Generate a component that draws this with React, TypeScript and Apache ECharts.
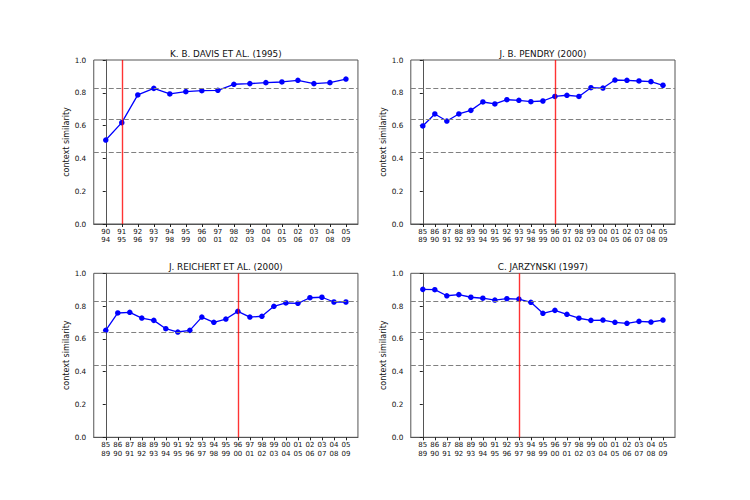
import React, { useEffect, useRef } from "react";
import * as echarts from "echarts";

// Tick labels (start year / end year of each 5-year window)
const catsLong = [
  "85\n89", "86\n90", "87\n91", "88\n92", "89\n93", "90\n94", "91\n95",
  "92\n96", "93\n97", "94\n98", "95\n99", "96\n00", "97\n01", "98\n02",
  "99\n03", "00\n04", "01\n05", "02\n06", "03\n07", "04\n08", "05\n09",
];
const catsDavis = [
  "90\n94", "91\n95", "92\n96", "93\n97", "94\n98", "95\n99", "96\n00", "97\n01",
  "98\n02", "99\n03", "00\n04", "01\n05", "02\n06", "03\n07", "04\n08", "05\n09",
];

// Series values
const davis = [0.512, 0.618, 0.787, 0.827, 0.793, 0.807, 0.813, 0.815, 0.852, 0.856, 0.862, 0.866, 0.876, 0.856, 0.862, 0.884];
const pendry = [0.598, 0.671, 0.628, 0.671, 0.693, 0.744, 0.732, 0.758, 0.754, 0.746, 0.75, 0.778, 0.785, 0.778, 0.831, 0.829, 0.878, 0.876, 0.872, 0.868, 0.846];
const reichert = [0.652, 0.758, 0.762, 0.727, 0.713, 0.662, 0.642, 0.652, 0.733, 0.701, 0.721, 0.768, 0.733, 0.738, 0.799, 0.819, 0.817, 0.851, 0.854, 0.825, 0.825];
const jarzynski = [0.902, 0.9, 0.863, 0.87, 0.854, 0.848, 0.837, 0.845, 0.843, 0.823, 0.756, 0.774, 0.75, 0.726, 0.713, 0.715, 0.701, 0.695, 0.707, 0.703, 0.715];

// Reference levels (dashed) and titles
const thresholds = [0.834, 0.638, 0.441];
const titles = ["K. B. DAVIS ET AL. (1995)", "J. B. PENDRY (2000)", "J. REICHERT ET AL. (2000)", "C. JARZYNSKI (1997)"];
const publicationWindows = ["91\n95", "96\n00", "96\n00", "93\n97"];
const yLabel = "context similarity";

const panels = [
  { cats: catsDavis, values: davis },
  { cats: catsLong, values: pendry },
  { cats: catsLong, values: reichert },
  { cats: catsLong, values: jarzynski },
];

const W = 264.2;
const H = 164;
const boxes = [
  { left: 93.75, top: 60 },
  { left: 410.8, top: 60 },
  { left: 93.75, top: 273.3 },
  { left: 410.8, top: 273.3 },
];

const FONT = "DejaVu Sans";
const SPINE = "#555";

export default function App() {
  const ref = useRef<HTMLDivElement>(null);
  useEffect(() => {
    if (!ref.current) return;
    const chart = echarts.init(ref.current, undefined, { renderer: "svg" });
    const grid: any[] = [];
    const xAxis: any[] = [];
    const yAxis: any[] = [];
    const series: any[] = [];
    const graphic: any[] = [];
    panels.forEach((p, k) => {
      const n = p.cats.length;
      const b = boxes[k];
      const idx = p.cats.map((_, i) => i);
      grid.push({
        left: b.left, top: b.top, width: W, height: H,
        show: true, borderColor: SPINE, borderWidth: 1, backgroundColor: "#fff",
      });
      xAxis.push({
        type: "value", gridIndex: k,
        min: -0.05 * (n - 1), max: (n - 1) * 1.05,
        splitLine: { show: false },
        axisLine: { show: true, onZero: false, lineStyle: { color: SPINE, width: 1 } },
        axisTick: { show: true, customValues: idx, length: 3, lineStyle: { color: "#222" } },
        axisLabel: {
          customValues: idx,
          formatter: (v: number) => p.cats[Math.round(v)] ?? "",
          fontFamily: FONT, fontSize: 7, lineHeight: 8.2, color: "#111", margin: 4,
        },
      });
      yAxis.push({
        type: "value", gridIndex: k, min: 0, max: 1, interval: 0.2,
        name: yLabel, nameLocation: "middle", nameRotate: 90, nameGap: 18,
        nameTextStyle: { fontFamily: FONT, fontSize: 8, color: "#111" },
        splitLine: { show: false },
        axisLine: { show: true, lineStyle: { color: SPINE, width: 1 } },
        axisTick: { show: true, length: 3, lineStyle: { color: "#222" } },
        axisLabel: {
          formatter: (v: number) => v.toFixed(1),
          fontFamily: FONT, fontSize: 7.3, color: "#111", margin: 7.5,
        },
      });
      series.push({
        type: "line", xAxisIndex: k, yAxisIndex: k,
        data: p.values.map((v, i) => [i, v]),
        symbol: "circle", symbolSize: 5.5,
        lineStyle: { color: "#0000ff", width: 1.3 },
        itemStyle: { color: "#0000ff" },
        z: 3,
        markLine: {
          silent: true, symbol: ["none", "none"], label: { show: false },
          animation: false,
          data: [
            ...thresholds.map((t) => ({ yAxis: t, lineStyle: { color: "#808080", type: [5, 2.5], width: 1.2 } })),
            { xAxis: p.cats.indexOf(publicationWindows[k]), lineStyle: { color: "rgba(255,0,0,0.8)", type: "solid", width: 1.4 } },
          ],
        },
      });
      graphic.push({
        type: "text", x: b.left + W / 2, y: b.top - 6.3,
        style: {
          text: titles[k], textAlign: "center", textVerticalAlign: "middle",
          fontFamily: FONT, fontSize: 8.8, fill: "#111",
        },
      });
    });
    chart.setOption({
      animation: false,
      backgroundColor: "#fff",
      grid, xAxis, yAxis, series, graphic,
    });
    return () => chart.dispose();
  }, []);
  return <div ref={ref} style={{ position: "absolute", left: 0, top: 0, width: 750, height: 500 }} />;
}
